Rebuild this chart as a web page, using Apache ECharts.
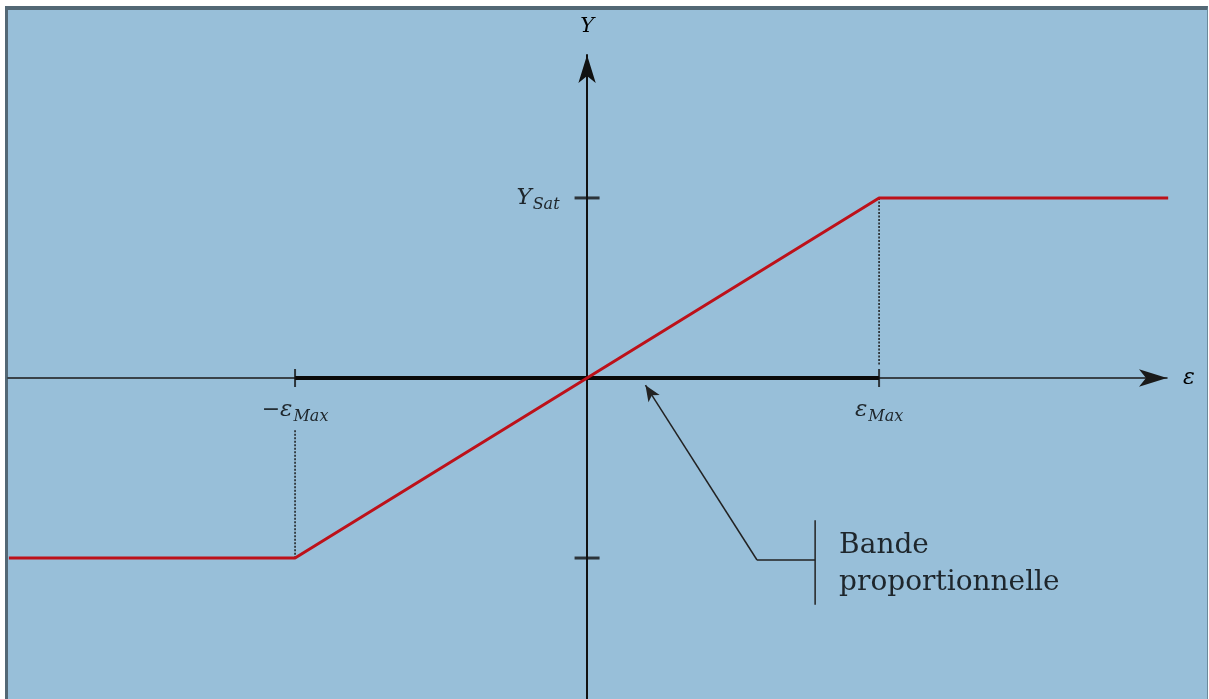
<!DOCTYPE html>
<html>
<head>
<meta charset="utf-8">
<script src="https://cdn.jsdelivr.net/npm/echarts@6/dist/echarts.min.js"></script>
<style>
  html, body { margin: 0; padding: 0; background: #fff; }
  #frame {
    position: absolute; left: 5px; top: 6px; width: 1199px; height: 689px;
    background: #98bfd9;
    border-top: 4px solid #536875; border-left: 3px solid #536875; border-right: 1px solid #6b8a9c;
  }
  #chart { position: absolute; left: 0; top: 0; width: 1209px; height: 699px; }
</style>
</head>
<body>
<div id="frame"></div>
<div id="chart"></div>
<script>
// saturation curve (x = epsilon, y = output), units of eps_max / Y_sat
const curveX = [-1.98, -1, 1, 1.99]
const curveY = [-1, -1, 1, 1]
// proportional band on the epsilon axis
const bandX = [-1, 1]
// tick positions
const tickX = [-1, 1]
const tickY = [-1, 1]
const tickLabelsX = ['{m|−}{e|ε}{s|Max}', '{e|ε}{s|Max}']
const tickLabelsY = ['', '{e|Y}{s|Sat}']
// dotted guides [x, yFrom, yTo]
const guides = [[1, 1, 0.07], [-1, -0.29, -1]]
// annotation pointer: arrow tip, elbow, bracket end, bracket range
const pointerTip = [0.2, -0.04]
const pointerElbow = [0.582, -1.011]
const bracketX = 0.781
const bracketY = [-0.79, -1.26]
const bandText = ['Bande', 'proportionnelle']

const serif = '"DejaVu Serif", "Liberation Serif", serif'
const rich = {
  m: { fontFamily: serif, fontSize: 22, color: '#000', lineHeight: 30, verticalAlign: 'middle' },
  e: { fontFamily: serif, fontStyle: 'italic', fontSize: 23, color: '#000', lineHeight: 30, verticalAlign: 'middle' },
  s: { fontFamily: serif, fontStyle: 'italic', fontSize: 16, color: '#000', lineHeight: 30, verticalAlign: 'bottom', padding: [0, 0, 0, 1] }
}

const chart = echarts.init(document.getElementById('chart'))
const option = {
  animation: false,
  backgroundColor: 'transparent',
  grid: { left: 8, right: 42, top: 55, bottom: 0 },
  xAxis: {
    type: 'value', min: -1.983, max: 1.986,
    name: 'ε', nameLocation: 'end', nameGap: 16,
    nameTextStyle: { fontFamily: serif, fontStyle: 'italic', fontSize: 22, color: '#000' },
    axisLine: { show: true, onZero: true, symbol: ['none', 'arrow'], symbolSize: [13, 28], lineStyle: { color: '#1a1a1a', width: 1.5 } },
    axisTick: { show: false }, axisLabel: { show: false }, splitLine: { show: false }
  },
  yAxis: {
    type: 'value', min: -1.783, max: 1.794,
    name: 'Y', nameLocation: 'end', nameGap: 18,
    nameTextStyle: { fontFamily: serif, fontStyle: 'italic', fontSize: 21, color: '#000' },
    axisLine: { show: true, onZero: true, symbol: ['none', 'arrow'], symbolSize: [13, 28], lineStyle: { color: '#111', width: 2 } },
    axisTick: { show: false }, axisLabel: { show: false }, splitLine: { show: false }
  },
  series: [
    {
      type: 'line', silent: true, symbol: 'none',
      data: bandX.map(x => [x, 0]),
      lineStyle: { color: '#0a0a0a', width: 4 }, z: 3
    },
    ...guides.map(g => ({
      type: 'line', silent: true, symbol: 'none',
      data: [[g[0], g[1]], [g[0], g[2]]],
      lineStyle: { color: '#1a1a1a', width: 1.5, type: [2, 1.5] }, z: 2
    })),
    {
      type: 'line', silent: true, symbol: 'none',
      data: curveX.map((x, i) => [x, curveY[i]]),
      lineStyle: { color: '#bd111a', width: 3 }, z: 4
    },
    {
      type: 'scatter', silent: true, symbol: 'rect', symbolSize: [2, 18],
      itemStyle: { color: '#111' },
      data: tickX.map(x => [x, 0]),
      label: { show: true, position: 'bottom', distance: 8, formatter: p => tickLabelsX[p.dataIndex], rich: rich },
      z: 5
    },
    {
      type: 'scatter', silent: true, symbol: 'rect', symbolSize: [25, 3],
      itemStyle: { color: '#111' },
      data: tickY.map(y => [0, y]),
      label: { show: true, position: 'left', distance: 15, formatter: p => tickLabelsY[p.dataIndex], rich: rich },
      z: 5
    },
    {
      type: 'line', silent: true, symbol: 'none',
      data: [pointerElbow, [bracketX, pointerElbow[1]]],
      lineStyle: { color: '#222', width: 1.5 },
      markLine: {
        silent: true, animation: false, symbol: ['none', 'arrow'], symbolSize: [10, 16],
        label: { show: false },
        lineStyle: { color: '#222', width: 1.5, type: 'solid' },
        data: [[{ coord: pointerElbow }, { coord: pointerTip }]]
      }
    },
    {
      type: 'line', silent: true, symbol: 'none',
      data: bracketY.map(y => [bracketX, y]),
      lineStyle: { color: '#222', width: 1.5 }
    },
    {
      type: 'scatter', silent: true, symbolSize: 0,
      data: [[bracketX, -0.93], [bracketX, -1.135]],
      label: {
        show: true, position: 'right', distance: 24,
        formatter: p => bandText[p.dataIndex],
        fontFamily: serif, fontSize: 28, color: '#000'
      }
    }
  ]
}
chart.setOption(option)
</script>
</body>
</html>
